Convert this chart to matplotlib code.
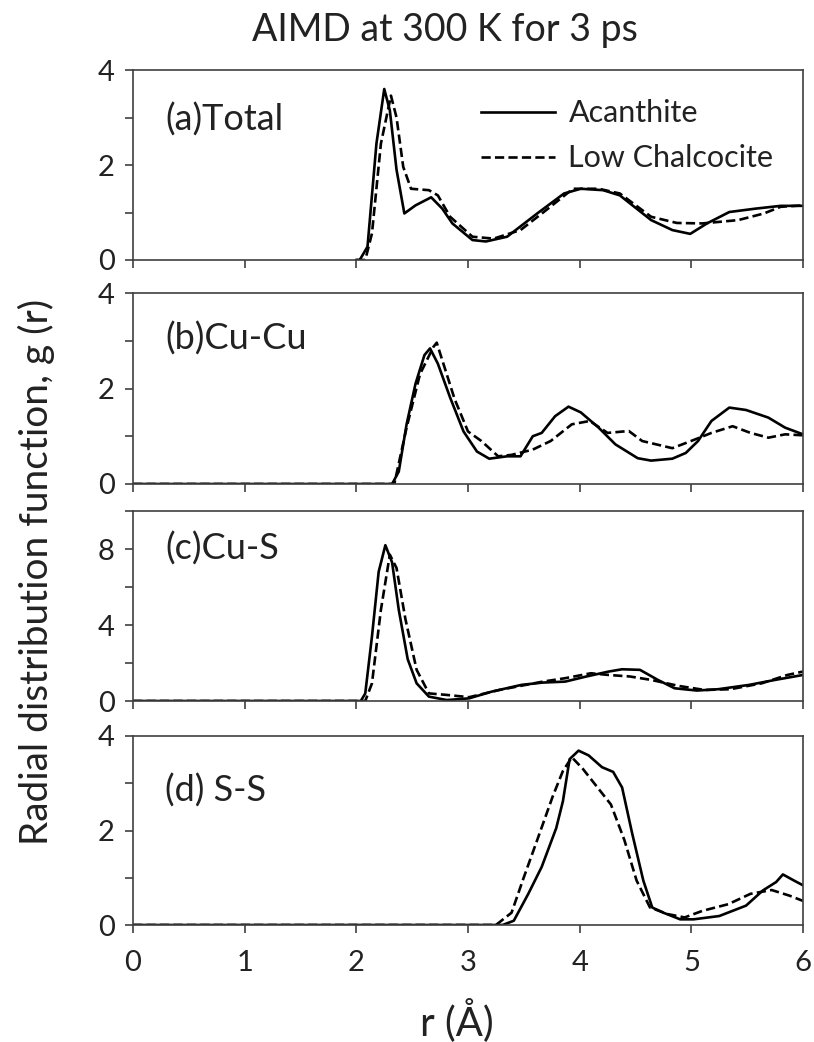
import matplotlib
matplotlib.use("Agg")
import matplotlib.pyplot as plt
from matplotlib.ticker import MultipleLocator

plt.rcParams['font.family'] = ['Lato', 'DejaVu Sans']

# (a) Total
tot_r_ac = [2.00, 2.03, 2.10, 2.18, 2.25, 2.30, 2.36, 2.43, 2.53, 2.67, 2.77, 2.86, 3.04, 3.16,
            3.35, 3.62, 3.86, 4.01, 4.21, 4.36, 4.64, 4.83, 4.99, 5.14, 5.34, 5.57, 5.80, 6.00]
tot_g_ac = [0.0, 0.0, 0.28, 2.45, 3.60, 3.15, 1.90, 0.98, 1.15, 1.32, 1.08, 0.77, 0.42, 0.39,
            0.49, 0.98, 1.40, 1.50, 1.47, 1.36, 0.84, 0.63, 0.55, 0.77, 1.01, 1.08, 1.14, 1.14]
tot_r_lc = [2.00, 2.08, 2.14, 2.22, 2.31, 2.36, 2.42, 2.49, 2.65, 2.73, 2.84, 3.04, 3.23, 3.47,
            3.70, 3.94, 4.17, 4.36, 4.64, 4.87, 5.10, 5.42, 5.65, 5.80, 6.00]
tot_g_lc = [0.0, 0.0, 0.56, 2.45, 3.46, 3.00, 1.96, 1.50, 1.47, 1.36, 0.91, 0.49, 0.45, 0.63,
            1.05, 1.50, 1.50, 1.40, 0.91, 0.78, 0.77, 0.84, 0.98, 1.12, 1.15]

# (b) Cu-Cu
cucu_r_ac = [0.00, 2.32, 2.38, 2.45, 2.53, 2.61, 2.66, 2.73, 2.84, 2.96, 3.08, 3.19, 3.35, 3.47,
             3.58, 3.66, 3.78, 3.90, 4.01, 4.17, 4.32, 4.52, 4.64, 4.83, 4.95, 5.06, 5.18, 5.34,
             5.49, 5.69, 5.84, 6.00]
cucu_g_ac = [0.0, 0.0, 0.26, 1.25, 2.10, 2.70, 2.84, 2.52, 1.81, 1.10, 0.68, 0.53, 0.58, 0.58,
             1.00, 1.07, 1.42, 1.62, 1.50, 1.18, 0.83, 0.54, 0.49, 0.53, 0.65, 0.90, 1.32, 1.60,
             1.55, 1.39, 1.18, 1.04]
cucu_r_lc = [0.00, 2.34, 2.45, 2.57, 2.69, 2.72, 2.77, 2.88, 3.00, 3.12, 3.27, 3.39, 3.58, 3.74,
             3.93, 4.09, 4.25, 4.44, 4.56, 4.83, 5.03, 5.18, 5.37, 5.53, 5.69, 5.84, 6.00]
cucu_g_lc = [0.0, 0.0, 1.18, 2.30, 2.87, 2.96, 2.59, 1.78, 1.10, 0.90, 0.58, 0.61, 0.72, 0.90,
             1.25, 1.32, 1.07, 1.11, 0.90, 0.75, 0.93, 1.07, 1.21, 1.07, 0.97, 1.04, 1.02]

# (c) Cu-S
cus_r_ac = [0.00, 2.04, 2.08, 2.14, 2.20, 2.26, 2.32, 2.38, 2.46, 2.54, 2.65, 2.81, 3.01, 3.21,
            3.48, 3.67, 3.87, 4.06, 4.26, 4.38, 4.54, 4.70, 4.85, 5.05, 5.24, 5.52, 5.75, 6.00]
cus_g_ac = [0.0, 0.0, 0.40, 3.40, 6.80, 8.20, 7.30, 4.80, 2.20, 0.93, 0.23, 0.05, 0.14, 0.49,
            0.85, 0.97, 1.02, 1.29, 1.55, 1.67, 1.64, 1.11, 0.67, 0.55, 0.62, 0.85, 1.11, 1.37]
cus_r_lc = [0.00, 2.08, 2.14, 2.22, 2.30, 2.36, 2.44, 2.54, 2.65, 2.81, 3.01, 3.28, 3.67, 3.87,
            4.10, 4.26, 4.45, 4.64, 4.89, 5.12, 5.35, 5.63, 5.86, 6.00]
cus_g_lc = [0.0, 0.0, 0.93, 4.80, 7.70, 7.00, 4.30, 1.64, 0.40, 0.32, 0.20, 0.58, 1.02, 1.20,
            1.46, 1.37, 1.29, 1.11, 0.79, 0.58, 0.62, 0.93, 1.37, 1.55]

# (d) S-S
ss_r_ac = [0.00, 3.31, 3.41, 3.54, 3.66, 3.79, 3.85, 3.91, 3.99, 4.08, 4.20, 4.30, 4.38, 4.47,
           4.57, 4.65, 4.75, 4.90, 5.02, 5.25, 5.49, 5.64, 5.76, 5.82, 5.92, 6.00]
ss_g_ac = [0.0, 0.0, 0.09, 0.66, 1.23, 2.05, 2.62, 3.51, 3.69, 3.59, 3.34, 3.24, 2.91, 1.94,
           0.94, 0.37, 0.26, 0.12, 0.12, 0.19, 0.41, 0.73, 0.91, 1.07, 0.94, 0.84]
ss_r_lc = [0.00, 3.25, 3.39, 3.50, 3.62, 3.76, 3.85, 3.93, 4.03, 4.15, 4.28, 4.40, 4.51, 4.63,
           4.79, 4.94, 5.10, 5.33, 5.53, 5.72, 5.88, 6.00]
ss_g_lc = [0.0, 0.0, 0.26, 1.01, 1.80, 2.73, 3.26, 3.55, 3.30, 2.94, 2.55, 1.80, 0.94, 0.37,
           0.23, 0.16, 0.30, 0.44, 0.66, 0.74, 0.62, 0.51]

panels = [
    ("(a)Total", tot_r_ac, tot_g_ac, tot_r_lc, tot_g_lc, 4, 1, [0, 2, 4]),
    ("(b)Cu-Cu", cucu_r_ac, cucu_g_ac, cucu_r_lc, cucu_g_lc, 4, 1, [0, 2, 4]),
    ("(c)Cu-S", cus_r_ac, cus_g_ac, cus_r_lc, cus_g_lc, 10, 2, [0, 4, 8]),
    ("(d) S-S", ss_r_ac, ss_g_ac, ss_r_lc, ss_g_lc, 4, 1, [0, 2, 4]),
]
label_y = [0.74, 0.76, 0.80, 0.71]

W, H = 814, 1042
fig = plt.figure(figsize=(W / 100, H / 100), dpi=100)
# axes boxes in pixels: top, bottom
boxes = [(70, 260), (293, 484), (511, 701), (736, 925)]
left, right = 133, 803
spine_col = '#404040'
txt_col = '#222222'

for i, (name, ra, ga, rl, gl, ymax, minor, major) in enumerate(panels):
    top, bot = boxes[i]
    ax = fig.add_axes([left / W, 1 - bot / H, (right - left) / W, (bot - top) / H])
    ax.plot(ra, ga, color='black', lw=1.9, label='Acanthite')
    ax.plot(rl, gl, color='black', lw=1.9, ls=(0, (3.5, 1.6)), label='Low Chalcocite')
    ax.set_xlim(0, 6)
    ax.set_ylim(0, ymax)
    ax.yaxis.set_minor_locator(MultipleLocator(minor))
    ax.set_yticks(major)
    ax.xaxis.set_major_locator(MultipleLocator(1))
    ax.tick_params(axis='both', which='both', direction='out', length=6, width=1.2,
                   color=spine_col, labelsize=21, labelcolor=txt_col)
    ax.tick_params(axis='y', which='both', pad=7)
    ax.tick_params(axis='x', which='both', pad=12)
    for s in ax.spines.values():
        s.set_color(spine_col)
        s.set_linewidth(1.2)
    if i < 3:
        ax.tick_params(axis='x', labelbottom=False)
    ax.text(0.048, label_y[i], name, transform=ax.transAxes, fontsize=26,
            va='center', ha='left', color=txt_col)
    if i == 0:
        ax.legend(loc='upper left', bbox_to_anchor=(0.52, 0.845), frameon=False,
                  fontsize=22, handlelength=2.4, handletextpad=0.45,
                  labelspacing=0.55, borderaxespad=0, borderpad=0, labelcolor=txt_col)

fig.text(445 / W, 1 - 30 / H, "AIMD at 300 K for 3 ps", ha='center', va='center',
         fontsize=27, color=txt_col)
fig.text(457 / W, 1 - 1020 / H, "r (Å)", ha='center', va='center', fontsize=29,
         color=txt_col)
fig.text(36 / W, 1 - 572 / H, "Radial distribution function, g (r)", ha='center',
         va='center', rotation=90, fontsize=28, color=txt_col)

fig.savefig("out.png", dpi=100)
